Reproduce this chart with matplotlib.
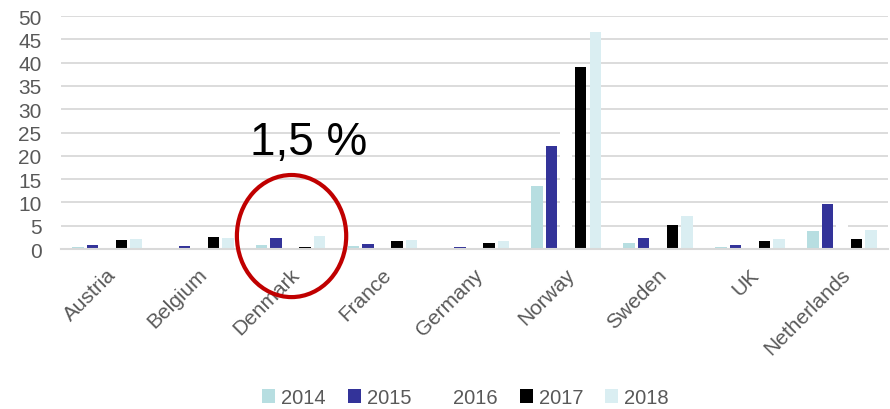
import numpy as np
import matplotlib
matplotlib.use("Agg")
import matplotlib.pyplot as plt
import matplotlib.transforms as mtransforms
from matplotlib.patches import Ellipse, Patch

plt.rcParams['font.family'] = ['Liberation Sans', 'DejaVu Sans']

# data
countries = ["Austria", "Belgium", "Denmark", "France", "Germany",
             "Norway", "Sweden", "UK", "Netherlands"]
years = ["2014", "2015", "2016", "2017", "2018"]
v2014 = [0.5, 0.3, 0.8, 0.6, 0.2, 13.5, 1.3, 0.4, 3.8]
v2015 = [0.85, 0.7, 2.4, 1.1, 0.5, 22.2, 2.4, 0.9, 9.7]
v2016 = [1.2, 1.5, 1.6, 1.4, 1.0, 28.0, 3.5, 1.3, 7.0]   # white bars, only seen where they cut the grid
v2017 = [2.0, 2.6, 0.5, 1.7, 1.4, 39.1, 5.1, 1.7, 2.1]
v2018 = [2.2, 2.3, 2.9, 1.9, 1.7, 46.5, 7.1, 2.2, 4.1]
series = [v2014, v2015, v2016, v2017, v2018]
colors = ["#B7DEE1", "#333399", "#FFFFFF", "#000000", "#DAEEF2"]

grey = "#595959"

fig = plt.figure(figsize=(8.9, 4.1), dpi=100)
ax = fig.add_axes([0.0685, 0.39, 0.929, 0.5683])

x = np.arange(len(countries))
step = 0.158
width = 0.125
for i, (vals, c) in enumerate(zip(series, colors)):
    ax.bar(x + (i - 2) * step, vals, width=width, color=c, zorder=2)

ax.set_xlim(-0.5, len(countries) - 0.5)
ax.set_ylim(0, 50)
ax.set_yticks(np.arange(0, 51, 5))
ax.set_axisbelow(True)
ax.yaxis.grid(True, color="#D9D9D9", linewidth=1.3)
ax.tick_params(axis="y", length=0, pad=14, labelsize=15, labelcolor=grey)
ax.set_xticks(x)
ax.set_xticklabels(countries, rotation=45, ha="right", va="top", rotation_mode="anchor")
ax.tick_params(axis="x", length=0, pad=11, labelsize=15, labelcolor=grey)
# small nudge of the rotated labels
shift = mtransforms.ScaledTranslation(-1 / 100, 0, fig.dpi_scale_trans)
for lab in ax.get_xticklabels():
    lab.set_transform(lab.get_transform() + shift)

for s in ["top", "right", "left"]:
    ax.spines[s].set_visible(False)
ax.spines["bottom"].set_color("#D9D9D9")
ax.spines["bottom"].set_linewidth(1.5)
ax.spines["bottom"].set_zorder(3)

# annotation around Denmark
ax.add_patch(Ellipse((2.01, 2.8), 1.19, 26.2, fill=False, edgecolor="#C00000",
                     linewidth=3.0, clip_on=False, zorder=5))
ax.text(2.2, 20.4, "1,5 %", fontsize=33, ha="center", va="baseline", color="black")

handles = [Patch(facecolor=c, edgecolor="none") for c in colors]
fig.legend(handles, years, loc="center", bbox_to_anchor=(0.523, 0.028), ncol=5,
           frameon=False, fontsize=14.5, labelcolor=grey, handlelength=0.65,
           handleheight=0.65, handletextpad=0.3, columnspacing=1.1)

fig.savefig("out.png", dpi=100)
